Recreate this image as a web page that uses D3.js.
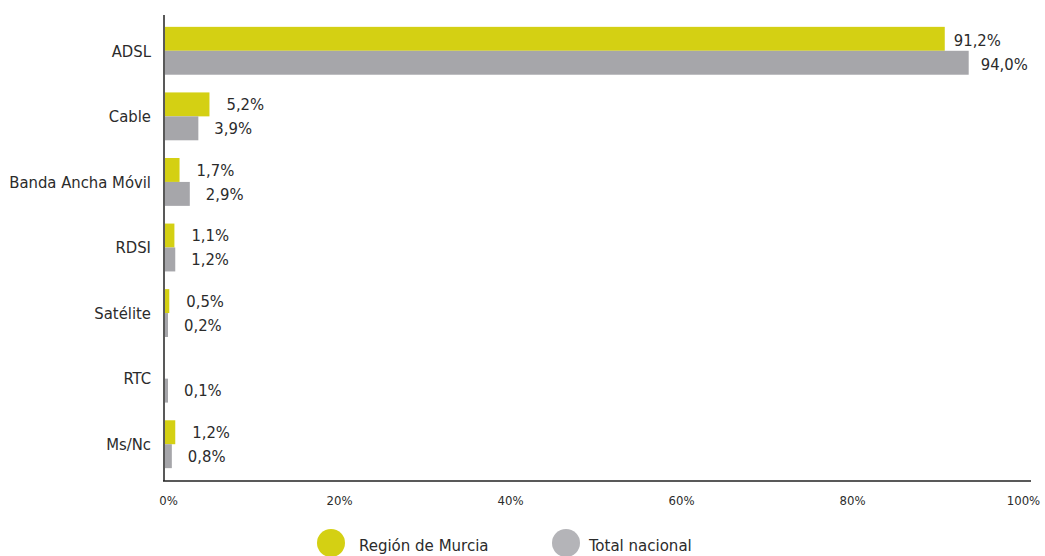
<!DOCTYPE html>
<html><head><meta charset="utf-8">
<script src="https://cdn.jsdelivr.net/npm/d3@7"></script>
<style>
body{margin:0;background:#fff;}
text{font-family:"DejaVu Sans Condensed","DejaVu Sans",sans-serif;font-stretch:condensed;fill:#2b2b2b;}
</style></head><body>
<svg id="c" width="1045" height="556"></svg>
<script>
const categories = ["ADSL","Cable","Banda Ancha Móvil","RDSI","Satélite","RTC","Ms/Nc"];
const murcia = [91.2, 5.2, 1.7, 1.1, 0.5, null, 1.2];
const nacional = [94.0, 3.9, 2.9, 1.2, 0.2, 0.1, 0.8];
const seriesNames = ["Región de Murcia","Total nacional"];
const tickValues = [0,20,40,60,80,100];
const colors = ["#d4d013","#a6a6aa"];
const legendColors = ["#d4d013","#b4b4b8"];
const FONT = '"DejaVu Sans Condensed","DejaVu Sans",sans-serif';

const svg = d3.select("#c");
const x = d3.scaleLinear().domain([0,100]).range([165,1020]);
const y = d3.scaleBand().domain(categories).range([18,477]).paddingInner(0.27).paddingOuter(0.135);
const sub = d3.scaleBand().domain([0,1]).range([0,y.bandwidth()]);

const fmt = v => v.toFixed(1).replace(".", ",") + "%";

categories.forEach((c,i) => {
  [murcia[i], nacional[i]].forEach((v,s) => {
    if (v == null) return;
    const y0 = y(c) + sub(s);
    const w = Math.max(x(v) - x(0), 3);
    svg.append("rect").attr("x", x(0)).attr("y", y0).attr("width", w).attr("height", sub.bandwidth()).attr("fill", colors[s]);
    const off = i === 0 ? (s === 0 ? 9 : 12) : (s === 0 ? 17 : 16);
    svg.append("text").attr("x", x(0) + w + off).attr("y", y0 + sub.bandwidth()/2 + (i===0?1:0))
      .attr("dy","0.35em").attr("font-size", 16.5).text(fmt(v));
  });
  svg.append("text").attr("x", 151).attr("y", y(c) + y.bandwidth()/2).attr("dy","0.35em")
    .attr("text-anchor","end").attr("font-size", 16.5).text(c);
});

// axes lines
svg.append("line").attr("x1",164).attr("x2",164).attr("y1",15).attr("y2",481).attr("stroke","#222").attr("stroke-width",1.5);
svg.append("line").attr("x1",163).attr("x2",1031).attr("y1",481).attr("y2",481).attr("stroke","#222").attr("stroke-width",1.5);

const xAxis = d3.axisBottom(x).tickValues(tickValues).tickSize(0).tickFormat(d => d + "%");
const gx = svg.append("g").attr("transform","translate(3,493)").call(xAxis);
gx.select(".domain").remove();
gx.selectAll("text").attr("font-size",13).attr("dy","0.71em").style("fill","#2b2b2b")
  .style("font-family",FONT);

// legend
const lx = [331, 566];
seriesNames.forEach((n,i) => {
  svg.append("circle").attr("cx", lx[i]).attr("cy", 543).attr("r", 14).attr("fill", legendColors[i]);
  svg.append("text").attr("x", lx[i] + 28 - (i===1?5:0)).attr("y", 545).attr("dy","0.35em").attr("font-size",16.7).text(n);
});
</script></body></html>
